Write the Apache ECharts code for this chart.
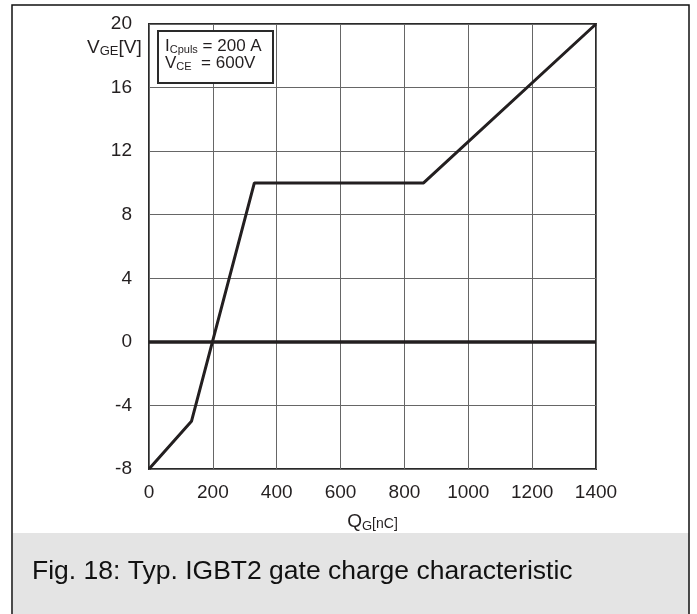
<!DOCTYPE html>
<html>
<head>
<meta charset="utf-8">
<script src="https://cdn.jsdelivr.net/npm/echarts@6/dist/echarts.min.js"></script>
<style>
html,body{margin:0;padding:0;background:#fff;}
#c{width:697px;height:614px;}
</style>
</head>
<body>
<div id="c"></div>
<script>
// Data
const qG = [0, 133, 330, 860, 1400];          // gate charge [nC]
const vGE = [-8, -5, 10, 10, 20];             // gate-emitter voltage [V]
const xTicks = [0, 200, 400, 600, 800, 1000, 1200, 1400];
const yTicks = [-8, -4, 0, 4, 8, 12, 16, 20];
const caption = 'Fig. 18: Typ. IGBT2 gate charge characteristic';

const FONT = '"Liberation Sans", Arial, Helvetica, sans-serif';
const TXT = '#231f20';

const chart = echarts.init(document.getElementById('c'), null, {renderer: 'canvas'});
const points = qG.map((q, i) => [q, vGE[i]]);

chart.setOption({
  animation: false,
  backgroundColor: '#fff',
  grid: {left: 149, top: 24, width: 447, height: 445, show: true,
         borderColor: '#2a2a2a', borderWidth: 2, containLabel: false},
  xAxis: {
    type: 'value', min: xTicks[0], max: xTicks[xTicks.length - 1], interval: 200,
    axisLine: {show: false, onZero: false},
    axisTick: {show: false},
    splitLine: {show: true, lineStyle: {color: '#666', width: 1}},
    axisLabel: {fontFamily: FONT, fontSize: 19, color: TXT, margin: 14, formatter: v => String(v)},
    name: 'Q{s|G}{u|[nC]}', nameLocation: 'middle', nameGap: 42,
    nameTextStyle: {fontFamily: FONT, fontSize: 19, color: TXT,
      rich: {s: {fontFamily: FONT, fontSize: 13, color: TXT, padding: [9, 0, 0, 0]},
             u: {fontFamily: FONT, fontSize: 14, color: TXT, padding: [5, 0, 0, 0]}}}
  },
  yAxis: {
    type: 'value', min: yTicks[0], max: yTicks[yTicks.length - 1], interval: 4,
    axisLine: {show: false},
    axisTick: {show: false},
    splitLine: {show: true, lineStyle: {color: '#666', width: 1}},
    axisLabel: {fontFamily: FONT, fontSize: 19, color: TXT, margin: 17, formatter: v => String(v)}
  },
  series: [{
    type: 'line', data: points, symbol: 'none',
    lineStyle: {color: TXT, width: 3}, z: 5,
    markLine: {silent: true, symbol: 'none', label: {show: false},
      lineStyle: {color: TXT, width: 3.5, type: 'solid'},
      data: [{yAxis: 0}]}
  }],
  graphic: [
    {type: 'rect', shape: {x: 13, y: 533, width: 676, height: 90}, style: {fill: '#e4e4e4'}, z: -10, silent: true},
    {type: 'rect', shape: {x: 12, y: 5, width: 677, height: 640}, style: {fill: null, stroke: '#111', lineWidth: 1.5}, z: 100, silent: true},
    {type: 'text', left: 32, top: 558, style: {text: caption, font: '26.5px ' + FONT, fill: '#111'}, z: 101},
    {type: 'text', x: 87, y: 37, style: {text: 'V{s|GE}[V]', font: '19px ' + FONT, fill: TXT,
      rich: {s: {font: '13px ' + FONT, fill: TXT, padding: [8, 0, 0, 0]}}}, z: 101},
    {type: 'rect', shape: {x: 158, y: 31, width: 115, height: 52}, style: {fill: '#fff', stroke: '#2a2a2a', lineWidth: 2}, z: 50},
    {type: 'text', x: 165, y: 38, style: {text: 'I{s|Cpuls} = 200 A\nV{s|CE}  = 600V', font: '17px ' + FONT, fill: TXT, lineHeight: 17,
      rich: {s: {font: '11px ' + FONT, fill: TXT, padding: [6, 0, 0, 0]}}}, z: 51}
  ]
});
</script>
</body>
</html>
